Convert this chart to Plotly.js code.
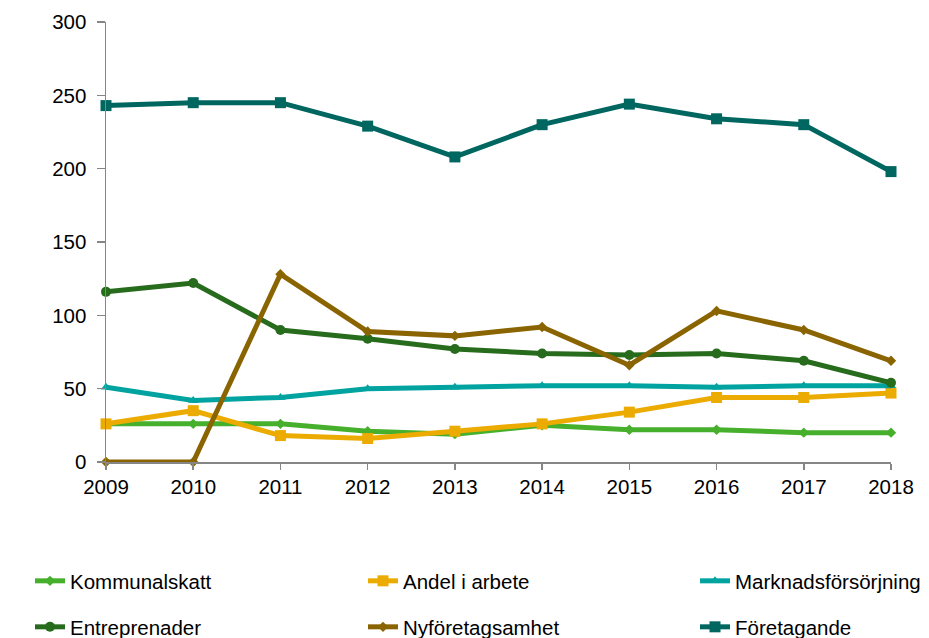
<!DOCTYPE html>
<html><head><meta charset="utf-8">
<script src="https://cdn.plot.ly/plotly-3.0.1.min.js"></script>
<style>html,body{margin:0;padding:0;background:#fff}#c{width:929px;height:638px}</style>
</head><body><div id="c"></div>
<script>
const years = [2009,2010,2011,2012,2013,2014,2015,2016,2017,2018];
const kommunalskatt = [26,26,26,21,19,25,22,22,20,20];
const andelIArbete = [26,35,18,16,21,26,34,44,44,47];
const marknadsforsorjning = [51,42,44,50,51,52,52,51,52,52];
const entreprenader = [116,122,90,84,77,74,73,74,69,54];
const nyforetagsamhet = [0,0,128,89,86,92,66,103,90,69];
const foretagande = [243,245,245,229,208,230,244,234,230,198];
const seriesNames = ["Kommunalskatt","Andel i arbete","Marknadsförsörjning","Entreprenader","Nyföretagsamhet","Företagande"];
const yTicks = [0,50,100,150,200,250,300];

const FONT = 'Liberation Sans, Arial, sans-serif';
function tr(name, y, color, symbol, size, legend){
  return {x: years, y: y, name: name, type:'scatter', mode:'lines+markers',
    line:{color:color, width:5}, marker:{color:color, symbol:symbol, size:size},
    cliponaxis:false, legend: legend};
}
const data = [
  tr(seriesNames[0], kommunalskatt, '#46b02c', 'diamond', 8, 'legend'),
  tr(seriesNames[1], andelIArbete, '#ebab00', 'square', 11, 'legend2'),
  tr(seriesNames[2], marknadsforsorjning, '#00a39f', 'triangle-up', 9, 'legend3'),
  tr(seriesNames[3], entreprenader, '#276b1c', 'circle', 10, 'legend4'),
  tr(seriesNames[4], nyforetagsamhet, '#8a6400', 'diamond', 8, 'legend5'),
  tr(seriesNames[5], foretagande, '#006660', 'square', 11, 'legend6')
];
function leg(xpx, ypx){
  return {orientation:'h', xref:'container', yref:'container', x: xpx/929, y: 1 - ypx/638,
    xanchor:'left', yanchor:'middle', font:{family:FONT, size:20.5, color:'#000'},
    bgcolor:'rgba(0,0,0,0)', borderwidth:0, itemclick:false};
}
const layout = {
  width:929, height:638,
  margin:{l:106, r:38, t:22, b:176},
  paper_bgcolor:'#fff', plot_bgcolor:'#fff',
  font:{family:FONT, size:20.5, color:'#000'},
  showlegend:true,
  legend: leg(30, 581), legend2: leg(363, 581), legend3: leg(695, 581),
  legend4: leg(30, 627), legend5: leg(363, 627), legend6: leg(695, 627),
  xaxis:{range:[2009,2018], tickmode:'array', tickvals:years, ticktext:years.map(String),
    showgrid:false, zeroline:false, showline:true, linecolor:'#868686', linewidth:1.5,
    ticks:'outside', ticklen:6, tickcolor:'#868686', tickwidth:1.5, ticklabelstandoff:0,
    tickfont:{family:FONT, size:20.5, color:'#000'}},
  yaxis:{range:[0,300], tickmode:'array', tickvals:yTicks, ticktext:yTicks.map(String),
    showgrid:false, zeroline:false, showline:true, linecolor:'#868686', linewidth:1.5,
    ticks:'outside', ticklen:8, tickcolor:'#868686', tickwidth:1.5, ticklabelstandoff:6,
    tickfont:{family:FONT, size:20.5, color:'#000'}}
};
Plotly.newPlot('c', data, layout, {displayModeBar:false, staticPlot:true});
</script></body></html>
